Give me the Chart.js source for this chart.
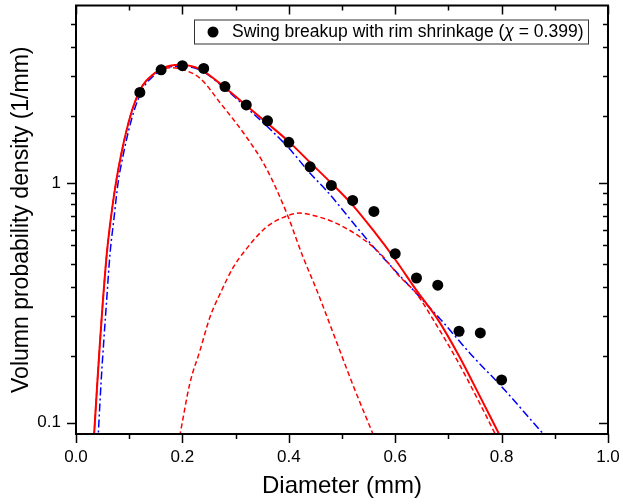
<!DOCTYPE html>
<html>
<head>
<meta charset="utf-8">
<script src="https://cdn.jsdelivr.net/npm/chart.js@4/dist/chart.umd.min.js"></script>
<style>
  html, body { margin: 0; padding: 0; background: #fff; }
  #wrap { width: 623px; height: 504px; }
</style>
</head>
<body>
<div id="wrap"><canvas id="pdfChart" width="623" height="504"></canvas></div>
<script>
// Measured volume PDF of the drop sizes
const sizeBins = [0.12, 0.16, 0.20, 0.24, 0.28, 0.32, 0.36, 0.40, 0.44, 0.48, 0.52, 0.56, 0.60, 0.64, 0.68, 0.72, 0.76, 0.80];
const measuredPdf = [2.39, 2.97, 3.09, 3.01, 2.53, 2.12, 1.82, 1.48, 1.17, 0.978, 0.847, 0.762, 0.508, 0.402, 0.375, 0.241, 0.237, 0.151];

// Total model (red solid)
const totalD = [0.033, 0.040, 0.045, 0.050, 0.058, 0.065, 0.075, 0.085, 0.095, 0.105, 0.115, 0.125, 0.140, 0.160, 0.195, 0.233, 0.283, 0.320, 0.358, 0.40, 0.44, 0.48, 0.52, 0.56, 0.60, 0.64, 0.68, 0.72, 0.76, 0.795];
const totalPdf = [0.082, 0.146, 0.216, 0.31, 0.51, 0.70, 1.0, 1.32, 1.66, 2.0, 2.30, 2.55, 2.78, 3.0, 3.12, 2.99, 2.47, 2.11, 1.79, 1.49, 1.22, 1.0, 0.81, 0.63, 0.48, 0.357, 0.27, 0.19, 0.128, 0.09];

// Reference fit (blue dash-dot)
const refD = [0.041, 0.047, 0.052, 0.057, 0.064, 0.071, 0.079, 0.089, 0.099, 0.109, 0.119, 0.129, 0.144, 0.164, 0.197, 0.235, 0.283, 0.320, 0.360, 0.400, 0.440, 0.471, 0.534, 0.565, 0.637, 0.684, 0.747, 0.797, 0.878];
const refPdf = [0.082, 0.146, 0.216, 0.31, 0.51, 0.70, 1.0, 1.32, 1.66, 2.0, 2.30, 2.55, 2.78, 3.0, 3.08, 2.95, 2.45, 2.07, 1.72, 1.40, 1.10, 0.93, 0.63, 0.524, 0.352, 0.272, 0.188, 0.144, 0.09];

// Small-drop mode (red dashed)
const smallD = [0.033, 0.040, 0.045, 0.050, 0.058, 0.065, 0.075, 0.085, 0.095, 0.105, 0.115, 0.125, 0.140, 0.160, 0.180, 0.200, 0.233, 0.274, 0.321, 0.358, 0.396, 0.427, 0.452, 0.484, 0.521, 0.558];
const smallPdf = [0.082, 0.146, 0.216, 0.31, 0.51, 0.70, 1.0, 1.32, 1.66, 2.0, 2.30, 2.55, 2.78, 2.98, 3.03, 2.98, 2.74, 2.12, 1.55, 1.15, 0.75, 0.49, 0.36, 0.235, 0.143, 0.09];

// Rim-shrinkage mode (red dashed)
const rimD = [0.195, 0.214, 0.233, 0.252, 0.271, 0.296, 0.318, 0.358, 0.390, 0.421, 0.459, 0.483, 0.534, 0.571, 0.609, 0.640, 0.672, 0.716, 0.753, 0.790];
const rimPdf = [0.088, 0.146, 0.20, 0.277, 0.346, 0.447, 0.524, 0.656, 0.72, 0.75, 0.72, 0.69, 0.596, 0.51, 0.406, 0.346, 0.268, 0.183, 0.128, 0.088];

const xMajorTicks = [0, 0.2, 0.4, 0.6, 0.8, 1.0];
const xMinorTicks = [0.1, 0.3, 0.5, 0.7, 0.9];
const yMajorTicks = [0.1, 1];
const yMinorTicks = [0.19, 0.28, 0.37, 0.46, 0.55, 0.64, 0.73, 0.82, 0.91, 1.9, 2.8, 3.7, 4.6];

const legendText = 'Swing breakup with rim shrinkage (\u03C7 = 0.399)';
const FONT = '"Liberation Sans", Arial, sans-serif';

const toPoints = (xs, ys) => xs.map((x, i) => ({ x: x, y: ys[i] }));

// frame on all four sides, outward ticks bottom/left, inward ticks top/right
const frameTicks = {
    id: 'frameTicks',
    afterDatasetsDraw(chart) {
        const { ctx, chartArea: a, scales } = chart;
        const x = scales.x, y = scales.y;
        ctx.save();
        ctx.strokeStyle = '#000';
        ctx.lineWidth = 1.5;
        const seg = (x1, y1, x2, y2) => {
            ctx.beginPath();
            ctx.moveTo(x1, y1);
            ctx.lineTo(x2, y2);
            ctx.stroke();
        };
        const xTicks = (vals, len) => vals.forEach(v => {
            const p = Math.round(x.getPixelForValue(v)) + 0.5;
            seg(p, a.bottom, p, a.bottom + len);
            seg(p, a.top, p, a.top + len);
        });
        const yTicks = (vals, len) => vals.forEach(v => {
            const p = Math.round(y.getPixelForValue(v)) + 0.5;
            seg(a.left, p, a.left - len, p);
            seg(a.right, p, a.right - len, p);
        });
        xTicks(xMajorTicks, 9);
        xTicks(xMinorTicks, 5);
        yTicks(yMajorTicks, 9);
        yTicks(yMinorTicks, 5);
        ctx.lineWidth = 2;
        ctx.strokeRect(a.left, a.top, a.right - a.left, a.bottom - a.top);
        ctx.restore();
    }
};

// boxed legend with an italic chi
const boxedLegend = {
    id: 'boxedLegend',
    afterDraw(chart) {
        const { ctx, chartArea: a } = chart;
        const ds = chart.data.datasets[0];
        const boxL = a.left + 118, boxT = a.top + 14, boxR = a.right - 20, boxH = 24;
        ctx.save();
        ctx.fillStyle = '#fff';
        ctx.fillRect(boxL, boxT, boxR - boxL, boxH);
        ctx.strokeStyle = '#333';
        ctx.lineWidth = 1;
        ctx.strokeRect(boxL + 0.5, boxT + 0.5, boxR - boxL, boxH);
        const cy = boxT + boxH / 2 + 0.5;
        ctx.fillStyle = ds.pointBackgroundColor;
        ctx.beginPath();
        ctx.arc(boxL + 19, cy, ds.pointRadius, 0, Math.PI * 2);
        ctx.fill();

        const parts = ds.label.split('\u03C7');
        ctx.fillStyle = '#000';
        ctx.textBaseline = 'middle';
        let tx = boxL + 38;
        ctx.font = '17.5px ' + FONT;
        ctx.fillText(parts[0], tx, cy);
        tx += ctx.measureText(parts[0]).width;
        ctx.font = 'italic 17.5px ' + FONT;
        ctx.fillText('\u03C7', tx, cy);
        tx += ctx.measureText('\u03C7').width;
        ctx.font = '17.5px ' + FONT;
        ctx.fillText(parts[1], tx, cy);
        ctx.restore();
    }
};

const ctx = document.getElementById('pdfChart').getContext('2d');
new Chart(ctx, {
    type: 'scatter',
    data: {
        datasets: [
            {
                label: legendText,
                data: toPoints(sizeBins, measuredPdf),
                pointRadius: 5.5,
                pointBackgroundColor: '#000',
                pointBorderWidth: 0,
                showLine: false
            },
            {
                label: 'total',
                data: toPoints(totalD, totalPdf),
                showLine: true,
                borderColor: '#ff0000',
                borderWidth: 2,
                pointRadius: 0,
                cubicInterpolationMode: 'monotone'
            },
            {
                label: 'small drops',
                data: toPoints(smallD, smallPdf),
                showLine: true,
                borderColor: '#ff0000',
                borderWidth: 1.5,
                borderDash: [5, 3],
                pointRadius: 0,
                cubicInterpolationMode: 'monotone'
            },
            {
                label: 'rim shrinkage',
                data: toPoints(rimD, rimPdf),
                showLine: true,
                borderColor: '#ff0000',
                borderWidth: 1.5,
                borderDash: [5, 3],
                pointRadius: 0,
                cubicInterpolationMode: 'monotone'
            },
            {
                label: 'reference',
                data: toPoints(refD, refPdf),
                showLine: true,
                borderColor: '#0000ff',
                borderWidth: 1.5,
                borderDash: [8, 3, 2, 3],
                pointRadius: 0,
                cubicInterpolationMode: 'monotone'
            }
        ]
    },
    options: {
        responsive: false,
        animation: false,
        devicePixelRatio: 1,
        layout: { padding: { top: 5, right: 15, left: 0, bottom: 0 } },
        plugins: {
            legend: { display: false },
            tooltip: { enabled: false }
        },
        scales: {
            x: {
                type: 'linear',
                min: 0,
                max: 1,
                grid: { display: false, drawTicks: false },
                border: { display: false },
                afterBuildTicks: s => { s.ticks = xMajorTicks.map(v => ({ value: v })); },
                afterFit: s => { s.height = 70; s.paddingLeft = 0; s.paddingRight = 0; },
                ticks: {
                    autoSkip: false,
                    maxRotation: 0,
                    padding: 13,
                    color: '#000',
                    font: { family: FONT, size: 17 },
                    callback: v => v.toFixed(1)
                },
                title: {
                    display: true,
                    text: 'Diameter (mm)',
                    color: '#000',
                    font: { family: FONT, size: 24 },
                    padding: { top: 0, bottom: 3 }
                }
            },
            y: {
                type: 'logarithmic',
                min: 0.0898,
                max: 5.51,
                grid: { display: false, drawTicks: false },
                border: { display: false },
                afterBuildTicks: s => { s.ticks = yMajorTicks.map(v => ({ value: v })); },
                afterFit: s => { s.width = 76; s.paddingTop = 0; s.paddingBottom = 0; },
                ticks: {
                    autoSkip: false,
                    padding: 15,
                    color: '#000',
                    font: { family: FONT, size: 17 },
                    callback: v => String(v)
                },
                title: {
                    display: true,
                    text: 'Volumn probability density (1/mm)',
                    color: '#000',
                    font: { family: FONT, size: 23 },
                    padding: { top: 8, bottom: 0 }
                }
            }
        }
    },
    plugins: [frameTicks, boxedLegend]
});
</script>
</body>
</html>
